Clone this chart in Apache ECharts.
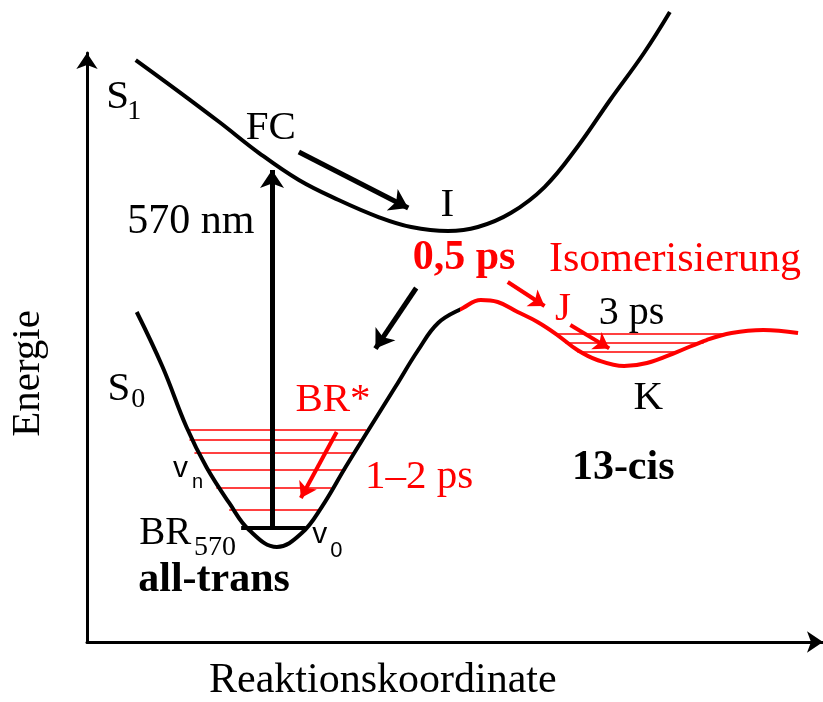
<!DOCTYPE html>
<html><head><meta charset="utf-8">
<script src="https://cdn.jsdelivr.net/npm/echarts@6/dist/echarts.min.js"></script>
<style>html,body{margin:0;padding:0;background:#fff}#c{width:823px;height:702px}</style>
</head><body><div id="c"></div>
<script>
// Reaction coordinate (x) vs energy (y), arbitrary units 0..100
const s1Curve = [[6.6,97.48],[12.65,92.1],[18.16,87.06],[23.66,81.85],[29.16,77.31],[34.66,73.95],[40.17,71.09],[44.7,69.41],[49.79,68.74],[53.92,69.41],[58.46,71.76],[63.14,76.13],[67.68,82.86],[72.21,90.76],[76.89,98.66],[80.47,105.55]];
const s0CurveTrans = [[6.74,55.13],[10.32,45.88],[13.62,35.8],[16.37,29.08],[19.53,23.03],[22.28,18.49],[26.13,15.63],[29.57,17.98],[32.32,22.35],[35.63,29.08],[38.79,35.29],[42.5,42.52],[45.67,48.74],[48.42,53.28]];
const s0CurveCis = [[51.86,55.8],[54.33,57.14],[56.67,56.81],[59.42,55.13],[62.17,53.45],[64.92,51.26],[67.68,48.74],[70.43,47.06],[74.14,46.05],[77.3,46.55],[81.43,48.4],[85.56,50.42],[89.0,51.6],[93.4,52.1],[98.2,51.6]];
const isomerisationStart = 51.5;
// vibrational levels (energy, x from, x to)
const transLevelsY = [35.29,33.61,31.43,28.57,25.55,21.85];
const transLevelsX0 = [13.62,14.03,14.72,16.37,17.74,19.53];
const transLevelsX1 = [38.51,37.83,36.73,35.63,33.7,31.91];
const groundLevel = [18.82, 21.18, 30.12];
const cisLevelsY = [51.43,49.92,48.4];
const cisLevelsX0 = [64.65,66.02,67.68];
const cisLevelsX1 = [88.31,85.14,81.43];
// arrows [from, to]
const blackArrows = [
  [[25.45,18.82],[25.45,78.99]],
  [[29.16,82.02],[44.29,72.61]],
  [[45.39,59.16],[39.75,48.99]]
];
const redArrows = [
  [[58.05,60.17],[63.14,56.13]],
  [[66.71,52.94],[72.08,49.01]],
  [[34.39,34.96],[29.44,23.87]]
];
// annotations
const labelTexts = ['S','1','FC','I','570 nm','0,5 ps','Isomerisierung','J','3 ps','K','BR*','1–2 ps','13-cis','S','0','v','n','BR','570','v','0','all-trans','Energie','Reaktionskoordinate'];
const labelAt = [[2.61,91.09],[5.5,88.74],[21.87,85.97],[48.83,72.94],[5.5,70.17],[44.98,64.12],[63.82,63.87],[64.65,55.46],[70.7,54.79],[75.52,40.5],[28.75,40.17],[38.38,27.23],[66.99,28.74],[2.75,42.02],[6.05,40.34],[11.83,28.66],[14.44,26.47],[7.15,17.73],[14.72,15.38],[31.09,17.56],[33.56,14.96],[7.02,10.0],[-8.25,44.71],[40.85,-6.89]];

const SERIF = '"Liberation Serif","Times New Roman",serif';
const SANS = '"Liberation Sans",Arial,sans-serif';
const labelStyle = [
  {s:41},{s:28},{s:41},{s:41},{s:42},{s:42,c:'#ff0000',w:'bold'},{s:42,c:'#ff0000'},{s:41,c:'#ff0000'},{s:40},{s:41},{s:41,c:'#ff0000'},{s:41,c:'#ff0000'},{s:42,w:'bold'},
  {s:41},{s:28},{s:30,f:SANS},{s:20,f:SANS},{s:39},{s:28},{s:30,f:SANS},{s:22,f:SANS},{s:42,w:'bold'},{s:41,a:'center',r:90},{s:42,a:'center'}
];

const s0Full = s0CurveTrans.concat(s0CurveCis);
const xs = s0Full.map(p=>p[0]);
const frac = (isomerisationStart - Math.min(...xs)) / (Math.max(...xs) - Math.min(...xs));
const s0Color = new echarts.graphic.LinearGradient(0,0,1,0,[
  {offset:0,color:'#000'},{offset:frac,color:'#000'},{offset:frac,color:'#ff0000'},{offset:1,color:'#ff0000'}]);

const chart = echarts.init(document.getElementById('c'), null, {renderer:'canvas'});
const axisLine = {show:true, onZero:false, symbol:['none','arrow'], symbolSize:[16,16], lineStyle:{color:'#000', width:3}};
const series = [];
series.push({type:'line', data:s1Curve, smooth:0.4, symbol:'none', clip:false, lineStyle:{color:'#000', width:4}});
series.push({type:'line', data:s0Full, smooth:0.4, symbol:'none', clip:false, lineStyle:{color:s0Color, width:4}});
series.push({type:'lines', coordinateSystem:'cartesian2d', symbol:'none', lineStyle:{color:'#ff0000', width:1.6, opacity:1},
  data: transLevelsY.map((y,i)=>({coords:[[transLevelsX0[i],y],[transLevelsX1[i],y]]}))
    .concat(cisLevelsY.map((y,i)=>({coords:[[cisLevelsX0[i],y],[cisLevelsX1[i],y]]})))});
series.push({type:'lines', coordinateSystem:'cartesian2d', symbol:'none', lineStyle:{color:'#000', width:4, opacity:1},
  data:[{coords:[[groundLevel[1],groundLevel[0]],[groundLevel[2],groundLevel[0]]]}]});
series.push({type:'lines', coordinateSystem:'cartesian2d', symbol:['none','arrow'], symbolSize:18, lineStyle:{color:'#000', width:5, opacity:1},
  data: blackArrows.map(a=>({coords:a}))});
series.push({type:'lines', coordinateSystem:'cartesian2d', symbol:['none','arrow'], symbolSize:15, lineStyle:{color:'#ff0000', width:4, opacity:1},
  data: redArrows.map(a=>({coords:a}))});
series.push({type:'scatter', clip:false, symbol:'circle', symbolSize:1, itemStyle:{color:'rgba(255,255,255,0)', opacity:1}, silent:true, z:10,
  data: labelTexts.map((t,i)=>{
    const st = labelStyle[i];
    return {value:labelAt[i], label:{show:true, opacity:1, formatter:t, position:[0,0], align:st.a||'left', verticalAlign:'middle',
      rotate: st.r||0, color:st.c||'#000', fontSize:st.s, fontWeight:st.w||'normal', fontFamily:st.f||SERIF}};
  })});

chart.setOption({
  animation:false,
  backgroundColor:'#fff',
  grid:{left:87, top:53, width:740, height:589, containLabel:false},
  xAxis:{type:'value', min:-0.1376, max:101.65, axisLine:axisLine, axisTick:{show:false}, axisLabel:{show:false}, splitLine:{show:false}},
  yAxis:{type:'value', min:-0.336, max:98.66, axisLine:axisLine, axisTick:{show:false}, axisLabel:{show:false}, splitLine:{show:false}},
  series: series
});
</script></body></html>
